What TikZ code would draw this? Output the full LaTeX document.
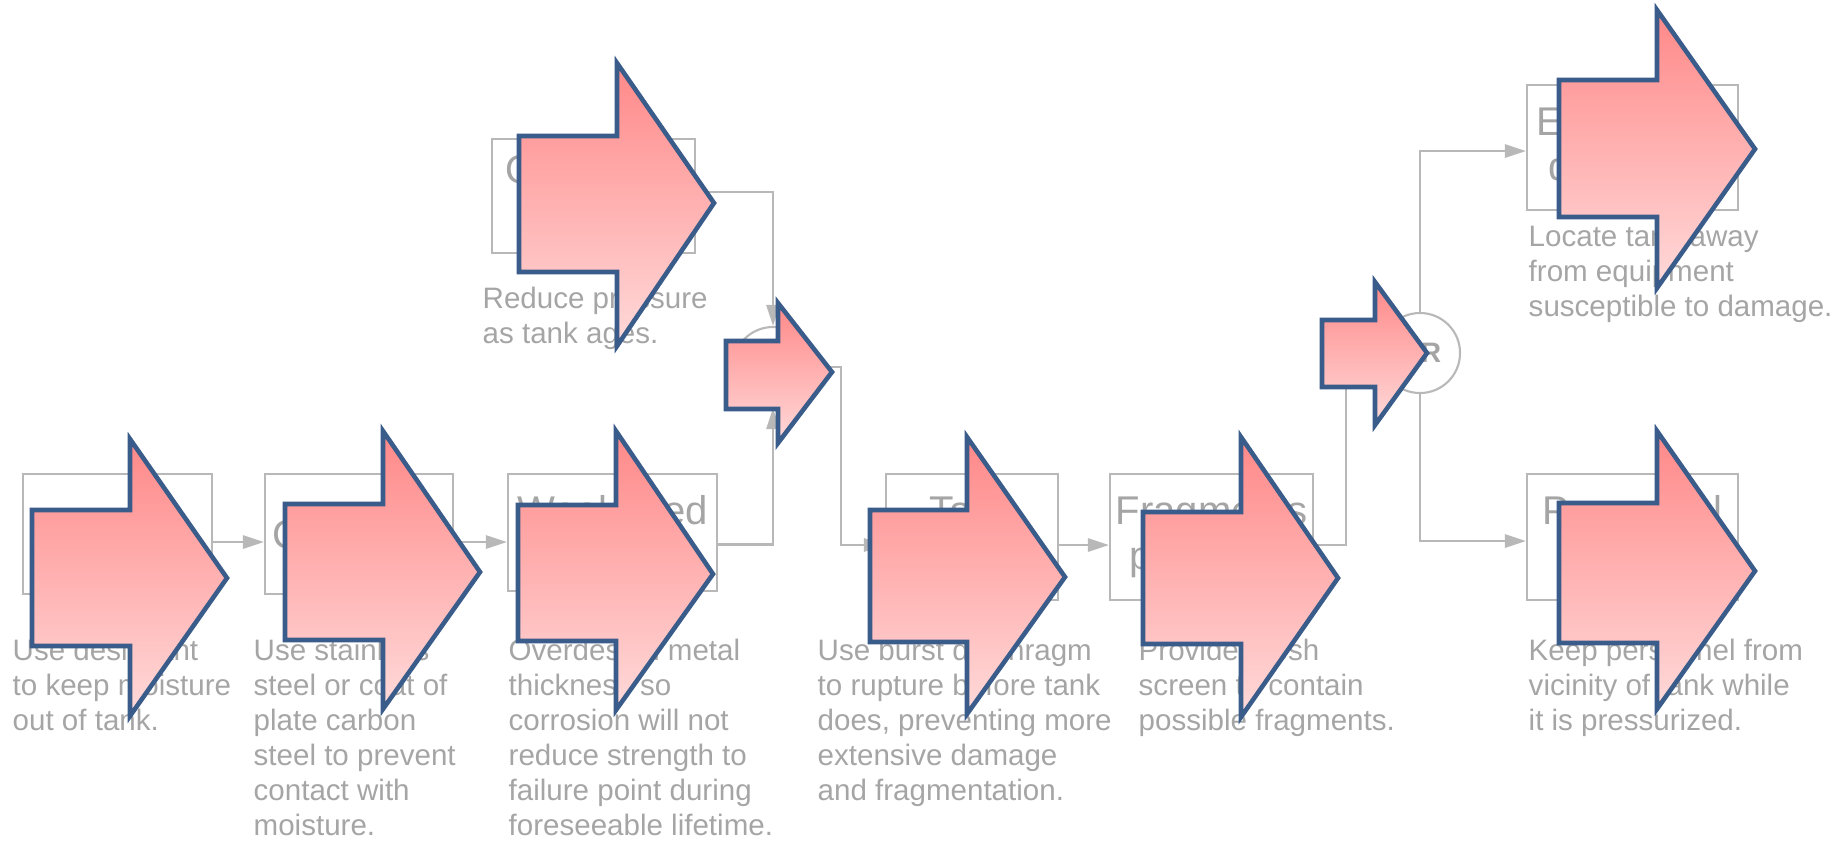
\documentclass[tikz,border=0pt]{standalone}
\usepackage{fontspec}
\setmainfont{Liberation Sans}
\usetikzlibrary{arrows.meta,calc}

\definecolor{linegrey}{RGB}{184,184,184}
\definecolor{textgrey}{RGB}{165,165,165}
\definecolor{pinktop}{RGB}{255,136,136}
\definecolor{pinkbot}{RGB}{255,218,218}
\definecolor{arrowblue}{RGB}{58,92,138}

\tikzset{
  event/.style={draw=linegrey, line width=0.6pt, text=textgrey, align=center, inner sep=0pt,
    font=\fontsize{11.4}{12.8}\selectfont},
  gate/.style={circle, draw=linegrey, line width=0.6pt, minimum size=0.8cm, inner sep=0pt,
    text=textgrey, font=\fontsize{8}{9}\selectfont\bfseries},
  desc/.style={anchor=north west, align=left, inner sep=0pt, text=textgrey,
    font=\fontsize{8.4}{9.96}\selectfont, execute at begin node={\rule{0pt}{8pt}}},
  flow/.style={draw=linegrey, line width=0.6pt, -{Triangle[length=6pt,width=3.8pt]}},
  fat/.style={draw=arrowblue, line width=1.3pt, top color=pinktop, bottom color=pinkbot, line join=miter}
}

% left, shaft top, shaft bottom, step, head top, head bottom, tip x, tip y
\newcommand{\fatarrow}[8]{%
  \path[fat] (#1,#2) -- (#4,#2) -- (#4,#5) -- (#7,#8) -- (#4,#6) -- (#4,#3) -- (#1,#3) -- cycle;}

\begin{document}
\begin{tikzpicture}[x=0.01cm, y=-0.01cm]
\useasboundingbox (0,0) rectangle (1843,841);

% events
\node[event, minimum width=1.89cm, minimum height=1.2cm] (moist) at (117.5,534) {Moisture};
\node[event, minimum width=1.88cm, minimum height=1.2cm] (corr) at (359,534) {Corrosion};
\node[event, minimum width=2.09cm, minimum height=1.17cm] (weak) at (612.5,532.5) {Weakened\\metal};
\node[event, minimum width=2.03cm, minimum height=1.14cm] (press) at (593.5,196) {Operating\\pressure};
\node[event, minimum width=1.72cm, minimum height=1.26cm] (rupt) at (972,537) {Tank\\ruptures};
\node[event, minimum width=2.03cm, minimum height=1.26cm] (frag) at (1211.5,537) {Fragments\\projected};
\node[event, minimum width=2.11cm, minimum height=1.25cm] (equip) at (1632.5,147.5) {Equipment\\damaged};
\node[event, minimum width=2.11cm, minimum height=1.26cm] (pers) at (1632.5,537) {Personnel\\injured};

% gates
\node[gate] (andg) at (773,367) {AND};
\node[gate] (org) at (1420,353) {OR};

% connectors
\draw[flow] ($(moist.east)+(0,8)$) coordinate (c1) -- (c1 -| corr.west);
\draw[flow] ($(corr.east)+(0,8)$) coordinate (c2) -- (c2 -| weak.west);
\draw[flow] ($(weak.east)+(0,12)$) -| (andg.south);
\draw[flow] ($(press.east)+(0,-4)$) -| (andg.north);
\draw[flow] (andg.east) -- ++(27,0) |- ($(rupt.west)+(0,8)$);
\draw[flow] ($(rupt.east)+(0,8)$) coordinate (c4) -- (c4 -| frag.west);
\draw[flow] ($(frag.east)+(0,8)$) -- ++(32,0) |- (org.west);
\draw[flow] (org.north) |- ($(equip.west)+(0,3.5)$);
\draw[flow] (org.south) |- ($(pers.west)+(0,4)$);

% remedies
\node[desc] (tmoist) at (12,638) {Use desiccant\\to keep moisture\\out of tank.};
\node[desc] (tcorr) at (253,638) {Use stainless\\steel or coat of\\plate carbon\\steel to prevent\\contact with\\moisture.};
\node[desc] (tweak) at (508,638) {Overdesign metal\\thickness so\\corrosion will not\\reduce strength to\\failure point during\\foreseeable lifetime.};
\node[desc] (tpress) at (482,286) {Reduce pressure\\as tank ages.};
\node[desc] (trupt) at (817,638) {Use burst diaphragm\\to rupture before tank\\does, preventing more\\extensive damage\\and fragmentation.};
\node[desc] (tfrag) at (1138,638) {Provide mesh\\screen to contain\\possible fragments.};
\node[desc] (tequip) at (1528,224) {Locate tank away\\from equipment\\susceptible to damage.};
\node[desc] (tpers) at (1528,638) {Keep personnel from\\vicinity of tank while\\it is pressurized.};

% big arrows on top
\fatarrow{32}{510}{646}{130}{439}{716}{227}{578}
\fatarrow{285}{504}{640}{383}{431}{709}{480}{572}
\fatarrow{518}{505}{641}{616}{431}{710}{713}{574}
\fatarrow{519}{136}{272}{617}{63}{346}{714}{203}
\fatarrow{726}{341}{409}{778}{303}{443}{832}{372}
\fatarrow{870}{510}{642}{967}{437}{714}{1065}{577}
\fatarrow{1143}{512}{644}{1241}{437}{717}{1338}{578}
\fatarrow{1322}{320}{387}{1375}{282}{425}{1427}{353}
\fatarrow{1559}{80}{217}{1657}{10}{288}{1755}{149}
\fatarrow{1559}{503}{643}{1657}{431}{709}{1755}{571}
\end{tikzpicture}
\end{document}
